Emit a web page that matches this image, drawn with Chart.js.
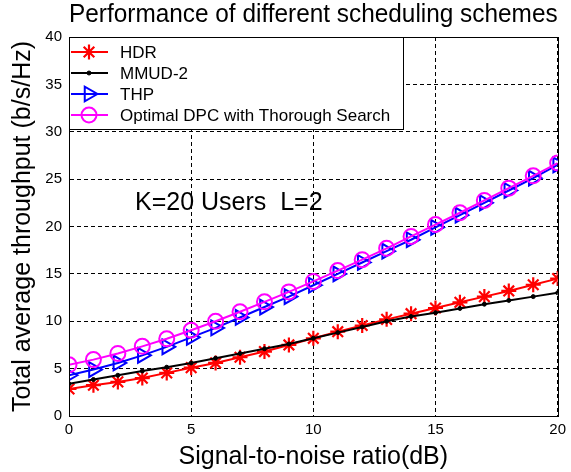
<!DOCTYPE html>
<html>
<head>
<meta charset="utf-8">
<script src="https://cdn.jsdelivr.net/npm/chart.js@4/dist/chart.umd.min.js"></script>
<style>
  html, body { margin: 0; padding: 0; background: #fff; }
  #wrap { width: 571px; height: 472px; }
</style>
</head>
<body>
<div id="wrap"><canvas id="chart" width="571" height="472"></canvas></div>
<script>
// ----- data -----
const snr = [0,1,2,3,4,5,6,7,8,9,10,11,12,13,14,15,16,17,18,19,20];
const hdr = [2.85,3.25,3.6,4.0,4.55,5.1,5.6,6.2,6.8,7.5,8.2,8.9,9.55,10.2,10.8,11.4,12.0,12.6,13.2,13.85,14.5];
const mmud = [3.4,3.85,4.3,4.75,5.15,5.6,6.1,6.6,7.1,7.6,8.2,8.8,9.4,10.0,10.5,10.9,11.35,11.8,12.2,12.6,13.0];
const thp = [4.3,4.9,5.6,6.4,7.3,8.3,9.3,10.4,11.5,12.6,13.8,15.0,16.2,17.4,18.6,19.9,21.2,22.5,23.8,25.1,26.5];
const dpc = [5.4,5.95,6.6,7.35,8.15,9.05,10.0,11.0,12.05,13.1,14.2,15.35,16.5,17.7,18.95,20.2,21.45,22.75,24.05,25.35,26.7];

const seriesNames = ["HDR","MMUD-2","THP","Optimal DPC with Thorough Search"];
const xTicks = [0,5,10,15,20];
const yTicks = [0,5,10,15,20,25,30,35,40];
const chartTitle = "Performance of different scheduling schemes";
const xTitle = "Signal-to-noise ratio(dB)";
const yTitle = "Total average throughput (b/s/Hz)";
const note = "K=20 Users  L=2";

const FONT = "'Liberation Sans', Arial, Helvetica, sans-serif";
const hollow = "rgba(0,0,0,0)";

function pts(ys){ return snr.map((x,i)=>({x:x, y:ys[i]})); }

// ----- box, legend and note -----
const matlabBits = {
  id: "matlabBits",
  afterDatasetsDraw(chart){
    const ctx = chart.ctx;
    const a = chart.chartArea;
    const xs = chart.scales.x, ys = chart.scales.y;
    ctx.save();

    // axes box
    ctx.strokeStyle = "#000";
    ctx.lineWidth = 1;
    ctx.setLineDash([]);
    ctx.strokeRect(Math.round(a.left)+0.5, Math.round(a.top)+0.5,
                   Math.round(a.right-a.left), Math.round(a.bottom-a.top));

    // text note
    ctx.fillStyle = "#000";
    ctx.font = "25px " + FONT;
    ctx.textAlign = "left";
    ctx.textBaseline = "alphabetic";
    ctx.fillText(note, xs.getPixelForValue(2.7), ys.getPixelForValue(21.7));

    // legend
    const lx = Math.round(a.left)+0.5, ly = Math.round(a.top)+0.5;
    const lw = 334, lh = 92;
    ctx.fillStyle = "#fff";
    ctx.fillRect(lx, ly, lw, lh);
    ctx.strokeStyle = "#000";
    ctx.strokeRect(lx, ly, lw, lh);

    const rows = [52, 73, 94, 115];
    ctx.font = "17px " + FONT;
    ctx.textBaseline = "middle";
    chart.data.datasets.forEach((ds, i)=>{
      const y = rows[i];
      ctx.strokeStyle = ds.borderColor;
      ctx.lineWidth = ds.borderWidth;
      ctx.beginPath();
      ctx.moveTo(a.left+2, y);
      ctx.lineTo(a.left+39, y);
      ctx.stroke();
      ctx.fillStyle = ds.pointBackgroundColor;
      ctx.strokeStyle = ds.borderColor;
      ctx.lineWidth = ds.pointBorderWidth;
      Chart.helpers.drawPoint(ctx, {
        pointStyle: ds.pointStyle,
        radius: ds.pointRadius,
        rotation: ds.pointRotation || 0,
        borderWidth: ds.pointBorderWidth
      }, a.left+20, y);
      ctx.fillStyle = "#000";
      ctx.fillText(ds.label, a.left+51, y+1);
    });
    ctx.restore();
  }
};

new Chart(document.getElementById("chart"), {
  type: "line",
  data: {
    datasets: [
      { label: seriesNames[0], data: pts(hdr), borderColor: "#ff0000", borderWidth: 2,
        pointStyle: "star", pointRadius: 7.5, pointBorderWidth: 2.2,
        pointBackgroundColor: hollow, pointBorderColor: "#ff0000", order: 3 },
      { label: seriesNames[1], data: pts(mmud), borderColor: "#000000", borderWidth: 2,
        pointStyle: "circle", pointRadius: 2, pointBorderWidth: 1,
        pointBackgroundColor: "#000000", pointBorderColor: "#000000", order: 2 },
      { label: seriesNames[2], data: pts(thp), borderColor: "#0000ff", borderWidth: 2,
        pointStyle: "triangle", pointRotation: 90, pointRadius: 8.5, pointBorderWidth: 2,
        pointBackgroundColor: hollow, pointBorderColor: "#0000ff", order: 1 },
      { label: seriesNames[3], data: pts(dpc), borderColor: "#ff00ff", borderWidth: 2,
        pointStyle: "circle", pointRadius: 7.5, pointBorderWidth: 2,
        pointBackgroundColor: hollow, pointBorderColor: "#ff00ff", order: 0 }
    ]
  },
  options: {
    responsive: false,
    animation: false,
    devicePixelRatio: 1,
    layout: { padding: { left: 0, right: 11, top: 0, bottom: 0 } },
    elements: { line: { tension: 0 } },
    plugins: {
      legend: { display: false },
      tooltip: { enabled: false },
      title: {
        display: true, text: chartTitle, fullSize: false, color: "#000",
        font: { family: FONT, size: 25, weight: "normal", lineHeight: 1.0 },
        padding: { top: 3, bottom: 9 }
      }
    },
    scales: {
      x: {
        type: "linear", min: 0, max: 20,
        afterFit: s => { s.height = 56; },
        afterBuildTicks: s => { s.ticks = xTicks.map(v=>({value:v})); },
        ticks: { color: "#000", font: { family: FONT, size: 15 }, padding: 5, maxRotation: 0 },
        grid: { color: "#000", lineWidth: 1, drawTicks: false },
        border: { display: true, color: "#000", dash: [4,3] },
        title: { display: true, text: xTitle, color: "#000",
                 font: { family: FONT, size: 25 }, padding: { top: 0, bottom: 0 } }
      },
      y: {
        min: 0, max: 40,
        afterFit: s => { s.width = 69; },
        afterBuildTicks: s => { s.ticks = yTicks.map(v=>({value:v})); },
        ticks: { color: "#000", font: { family: FONT, size: 15 }, padding: 7 },
        grid: { color: "#000", lineWidth: 1, drawTicks: false },
        border: { display: true, color: "#000", dash: [4,3] },
        title: { display: true, text: yTitle, color: "#000",
                 font: { family: FONT, size: 25 }, padding: { top: 8, bottom: 0 } }
      }
    }
  },
  plugins: [matlabBits]
});
</script>
</body>
</html>
